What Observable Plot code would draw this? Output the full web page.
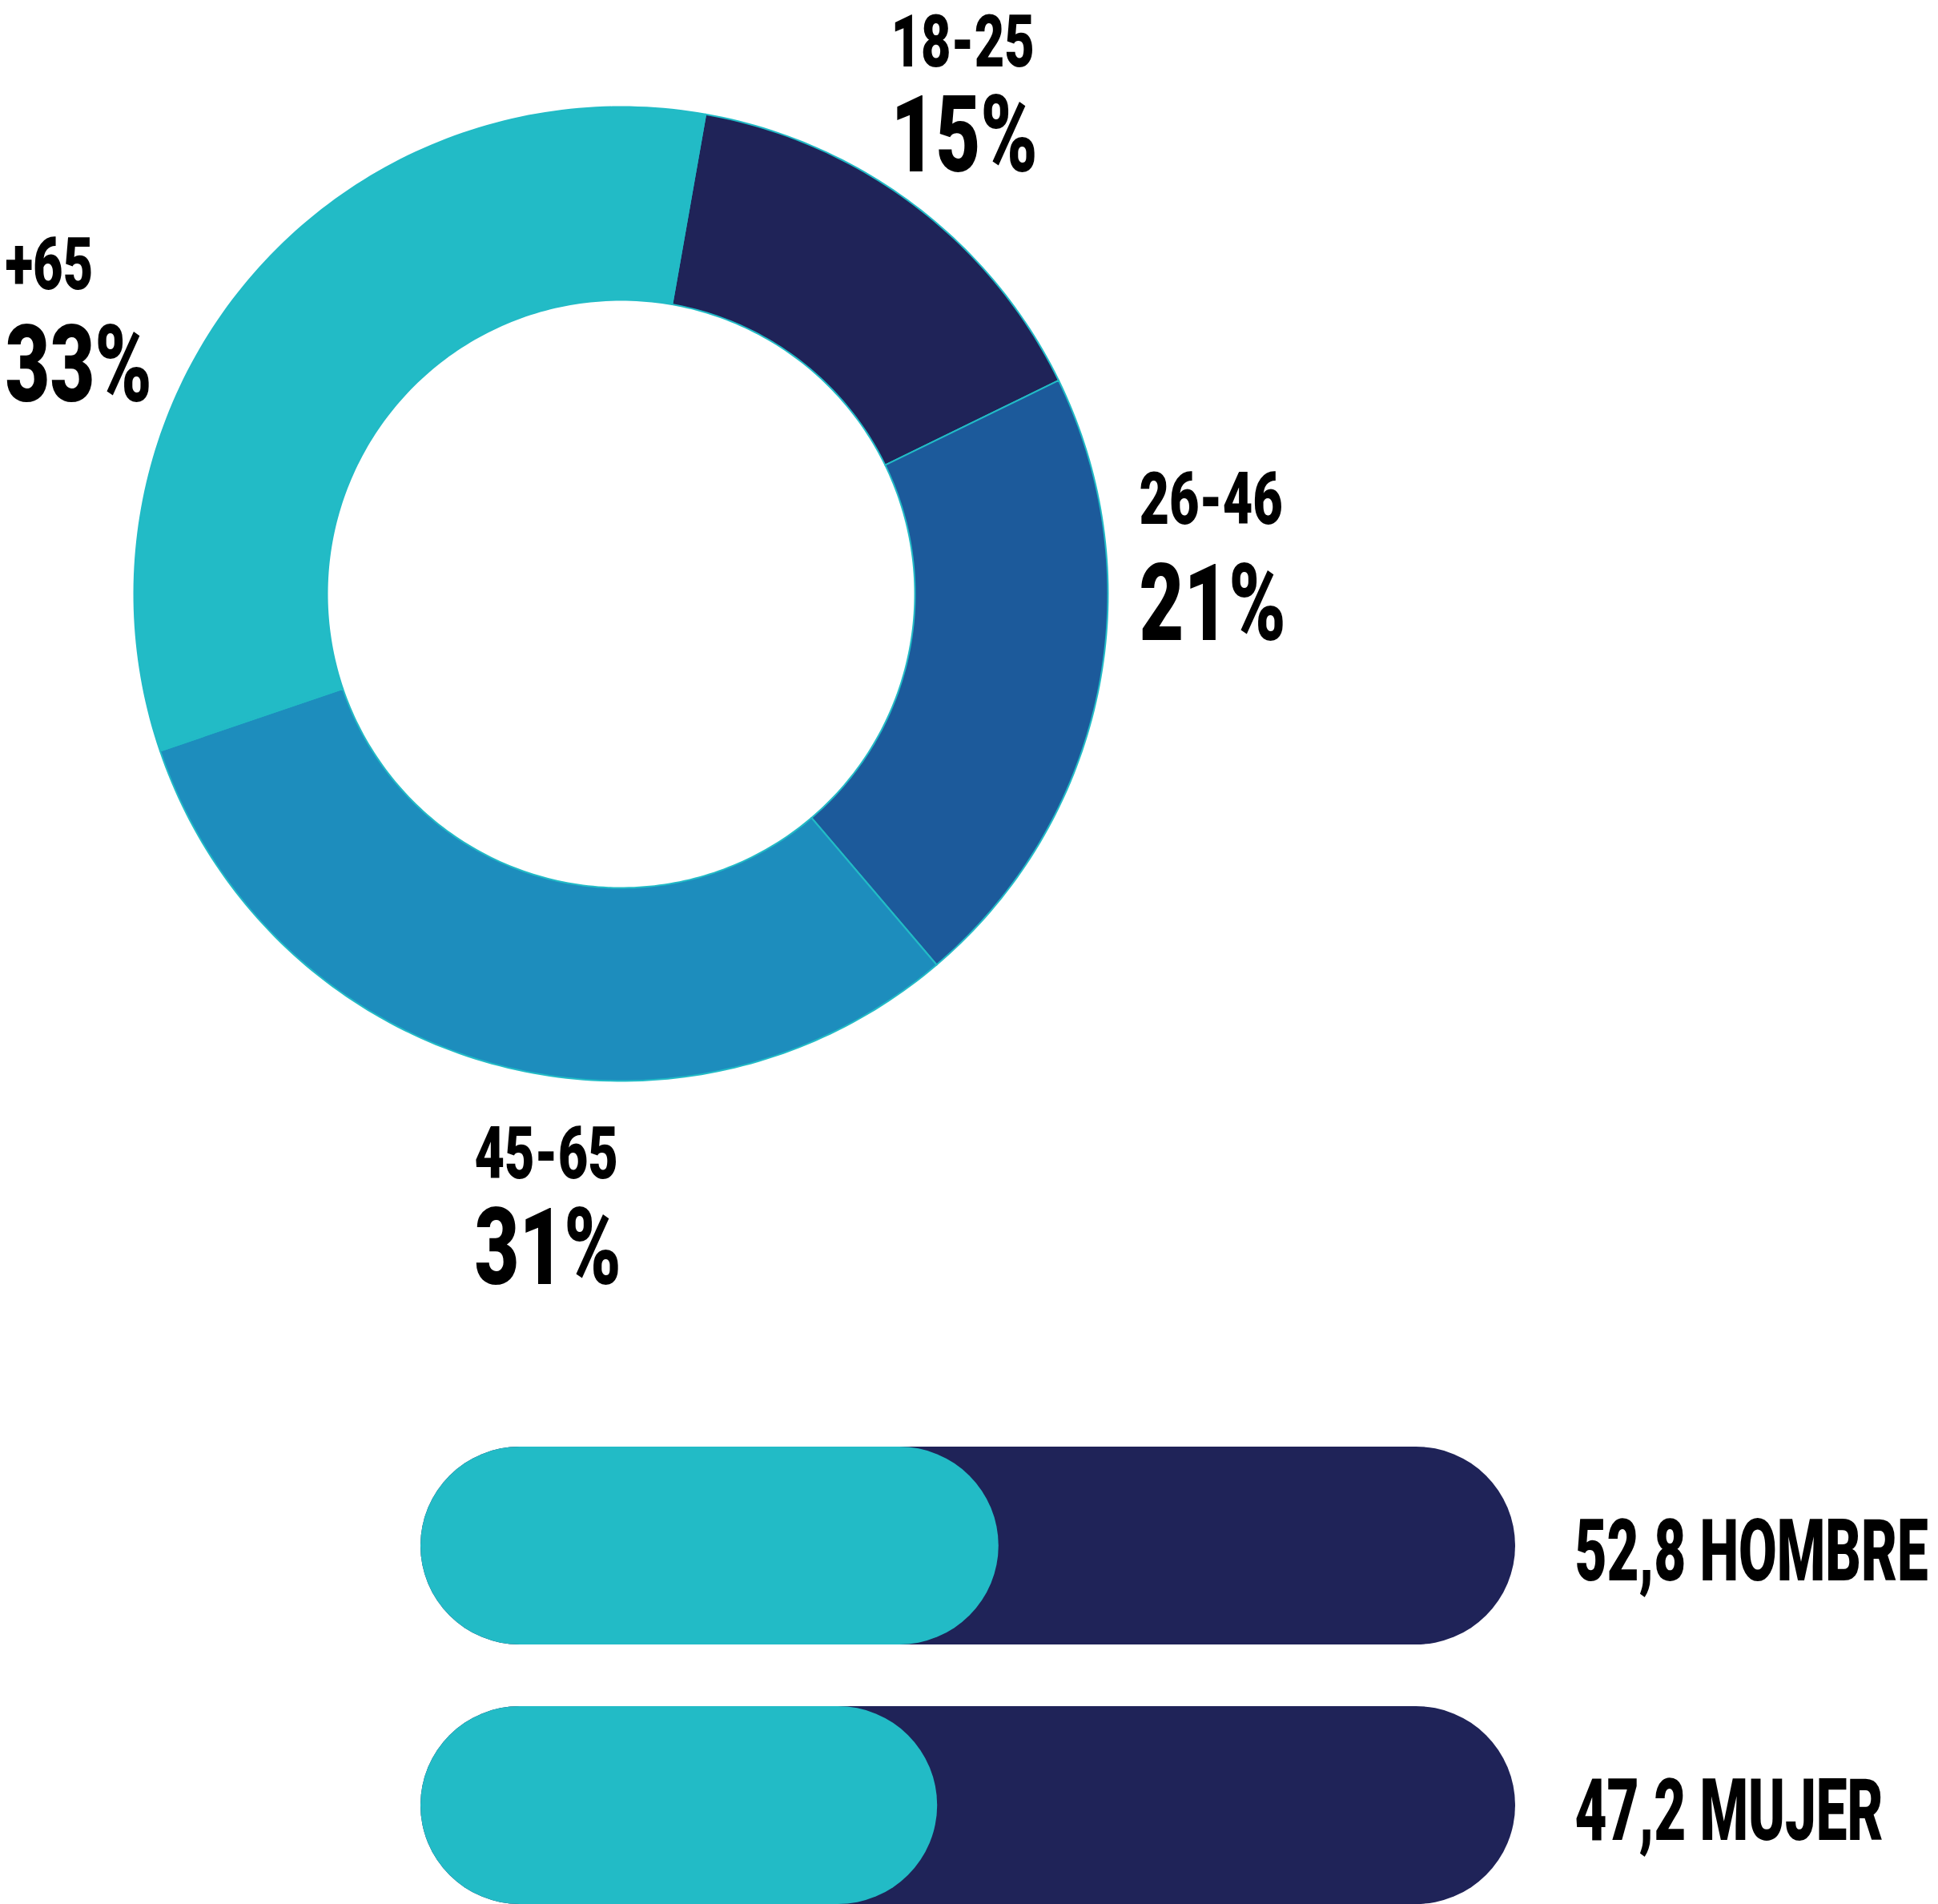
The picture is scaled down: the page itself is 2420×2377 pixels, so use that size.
<!DOCTYPE html>
<html><head><meta charset="utf-8">
<script src="https://cdn.jsdelivr.net/npm/d3@7"></script>
<script src="https://cdn.jsdelivr.net/npm/@observablehq/plot@0.6"></script>
<style>
html,body{margin:0;padding:0;background:#fff;}
#page{position:relative;width:2420px;height:2377px;overflow:hidden;background:#fff;}
#donut{position:absolute;left:0;top:0;}
#bars{position:absolute;left:0;top:1760px;}
</style></head><body>
<div id="page"><div id="donut"></div><div id="bars"></div></div>
<script>
// ---- data ----
const ageGroups = ["18-25", "26-46", "45-65", "+65"];
const agePercents = [15, 21, 31, 33];
const ageColors = ["#1f2358", "#1c5a9b", "#1d8dbd", "#22bbc6"];
const sexLabels = ["HOMBRE", "MUJER"];
const sexValues = [52.8, 47.2];
const sexTotal = 100;

// ---- layout ----
const W = 2420;
const donutCenter = [775, 741];
const pxPerDeg = 10;
const outerR = 60.8, innerR = 36.7;   // ring radii as colatitude (degrees)
const startDeg = 10;
const labelLayout = {
  "18-25": {x: 1112, ageY: 82, pctY: 213},
  "26-46": {x: 1422, ageY: 653, pctY: 798},
  "45-65": {x: 592, ageY: 1470, pctY: 1602},
  "+65":   {x: 6, ageY: 360, pctY: 500}
};
const FONT = "Roboto, 'Liberation Sans', 'DejaVu Sans', sans-serif";

const proj = d3.geoAzimuthalEquidistant()
  .rotate([0, -90])
  .scale(pxPerDeg * 180 / Math.PI)
  .translate(donutCenter)
  .precision(0.1);
const geoAt = (x, y) => proj.invert([x, y]);

const slices = ageGroups.map((age, i) => ({age, pct: agePercents[i]}));
const pie = d3.pie().sort(null).value(d => d.pct)
  .startAngle(startDeg * Math.PI / 180)
  .endAngle(startDeg * Math.PI / 180 + 2 * Math.PI);
const arcs = pie(slices);

function ringFeature(a) {
  const t0 = a.startAngle * 180 / Math.PI, t1 = a.endAngle * 180 / Math.PI;
  const n = Math.max(8, Math.ceil(t1 - t0));
  const coords = [];
  for (let k = 0; k <= n; k++) coords.push([180 - (t0 + (t1 - t0) * k / n), 90 - outerR]);
  for (let k = n; k >= 0; k--) coords.push([180 - (t0 + (t1 - t0) * k / n), 90 - innerR]);
  coords.push(coords[0].slice());
  const f = {type: "Feature", properties: a.data, geometry: {type: "Polygon", coordinates: [coords]}};
  if (d3.geoArea(f) > 2 * Math.PI) coords.reverse();
  return f;
}

function condense(svg, s) {
  svg.querySelectorAll("text").forEach(t => {
    const tr = t.getAttribute("transform");
    if (tr) t.setAttribute("transform", tr + ` scale(${s},1)`);
    else {
      const x = parseFloat(t.getAttribute("x") || 0);
      t.setAttribute("x", x / s);
      t.setAttribute("transform", `scale(${s},1)`);
    }
  });
}

const donut = Plot.plot({
  width: W, height: 1640, margin: 0,
  style: {fontFamily: FONT, background: "transparent"},
  projection: proj,
  color: {domain: ageGroups, range: ageColors},
  marks: [
    Plot.geo(arcs.map(ringFeature), {fill: d => d.properties.age, stroke: "#22bbc6", strokeWidth: 2}),
    Plot.text(slices, {
      x: d => geoAt(labelLayout[d.age].x, labelLayout[d.age].ageY)[0],
      y: d => geoAt(labelLayout[d.age].x, labelLayout[d.age].ageY)[1],
      text: "age", fontSize: 90, fontWeight: 900, textAnchor: "start", lineAnchor: "bottom", fill: "#000"
    }),
    Plot.text(slices, {
      x: d => geoAt(labelLayout[d.age].x, labelLayout[d.age].pctY)[0],
      y: d => geoAt(labelLayout[d.age].x, labelLayout[d.age].pctY)[1],
      text: d => d.pct + "%", fontSize: 134, fontWeight: 900, textAnchor: "start", lineAnchor: "bottom", fill: "#000"
    })
  ]
});
condense(donut, 0.72);
document.getElementById("donut").appendChild(donut);

const sexData = sexLabels.map((s, i) => ({sex: s, value: sexValues[i], total: sexTotal}));
const bars = Plot.plot({
  width: W, height: 617, marginTop: 46, marginBottom: 0, marginLeft: 525, marginRight: 528,
  style: {fontFamily: FONT, background: "transparent"},
  x: {domain: [0, sexTotal], axis: null},
  y: {domain: sexLabels, axis: null, paddingInner: 0.238, paddingOuter: 0},
  marks: [
    Plot.barX(sexData, {x1: 0, x2: "total", y: "sex", fill: "#1f2358", rx: 124}),
    Plot.barX(sexData, {x1: 0, x2: "value", y: "sex", fill: "#22bbc6", rx: 124}),
    Plot.text(sexData, {
      x: "total", y: "sex",
      text: d => `${d.value.toFixed(1).replace(".", ",")} ${d.sex}`,
      dx: 74, dy: 8, textAnchor: "start", fontSize: 108, fontWeight: 900, fill: "#000"
    })
  ]
});
condense(bars, 0.64);
document.getElementById("bars").appendChild(bars);
</script>
</body></html>
